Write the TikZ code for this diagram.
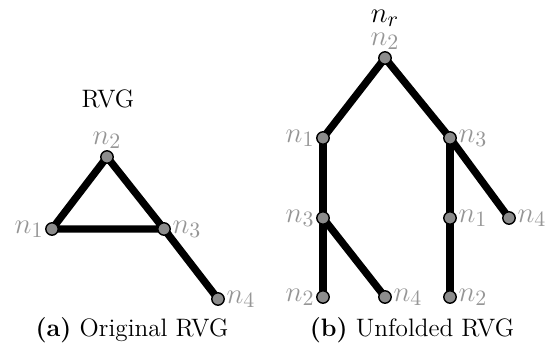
\documentclass[tikz,border=0pt]{standalone}
\usepackage{fontspec}
\usetikzlibrary{backgrounds}
\definecolor{lbl}{RGB}{150,150,150}
\definecolor{nfill}{RGB}{140,140,140}
\tikzset{
  vert/.style={circle, draw=black, fill=nfill, line width=0.7pt, minimum size=6.2pt, inner sep=0pt},
  edgeline/.style={line width=3.7pt},
  lab/.style={text=lbl, font=\fontsize{15}{18}\selectfont, inner sep=0.6pt},
  capt/.style={font=\fontsize{12.6}{15}\selectfont, anchor=base, inner sep=0pt},
  every label/.style={label distance=0pt},
}
\begin{document}
\begin{tikzpicture}[x=0.5pt,y=-0.5pt]
\useasboundingbox (0,0) rectangle (550,351);
% (a) original RVG
\node[capt] (title) at (108,108) {RVG};
\node[vert, label={[lab]above:$n_2$}] (a2) at (107,157) {};
\node[vert, label={[lab]left:$n_1$}] (a1) at (52,229) {};
\node[vert, label={[lab]right:$n_3$}] (a3) at (164,229) {};
\node[vert, label={[lab]right:$n_4$}] (a4) at (218,299) {};
\begin{scope}[on background layer]
  \draw[edgeline] (a1.center) -- (a2.center) -- (a3.center) -- (a1.center);
  \draw[edgeline] (a3.center) -- (a4.center);
\end{scope}
\node[capt] (capa) at (132,336) {\textbf{(a)} Original RVG};
% (b) unfolded RVG
\node[vert, label={[lab,name=rootlab]above:$n_2$}] (r) at (385,58) {};
\node[font=\fontsize{15}{18}\selectfont, anchor=south, inner sep=0pt] (nr) at ([yshift=2pt]rootlab.north) {$n_r$};
\node[vert, label={[lab]left:$n_1$}] (b1) at (323,138) {};
\node[vert, label={[lab]right:$n_3$}] (b3) at (450,138) {};
\node[vert, label={[lab]left:$n_3$}] (c3) at (323,218) {};
\node[vert, label={[lab]right:$n_1$}] (c1) at (450,218) {};
\node[vert, label={[lab]right:$n_4$}] (c4) at (509,218) {};
\node[vert, label={[lab]left:$n_2$}] (d2) at (323,297) {};
\node[vert, label={[lab]right:$n_4$}] (d4) at (385,297) {};
\node[vert, label={[lab]right:$n_2$}] (e2) at (450,297) {};
\begin{scope}[on background layer]
  \draw[edgeline] (b1.center) -- (r.center) -- (b3.center);
  \draw[edgeline] (b1.center) -- (c3.center) -- (d2.center);
  \draw[edgeline] (c3.center) -- (d4.center);
  \draw[edgeline] (b3.center) -- (c1.center) -- (e2.center);
  \draw[edgeline] (b3.center) -- (c4.center);
\end{scope}
\node[capt] (capb) at (412,336) {\textbf{(b)} Unfolded RVG};
\end{tikzpicture}
\end{document}
